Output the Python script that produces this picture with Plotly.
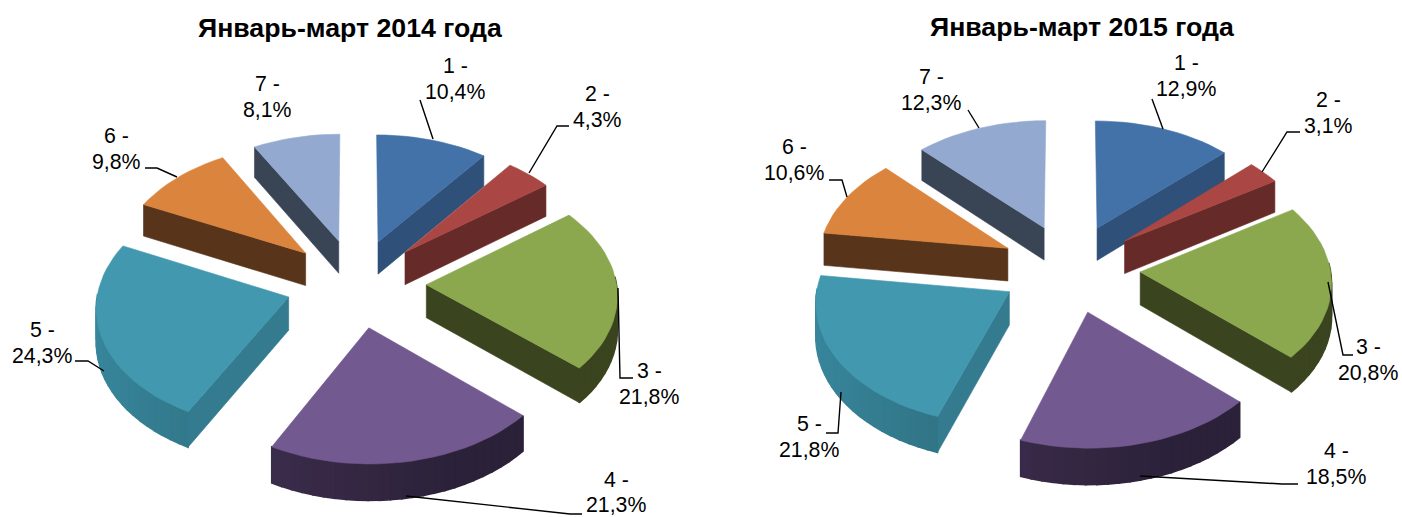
import math
import plotly.graph_objects as go

# ---- data ----
categories = ["1", "2", "3", "4", "5", "6", "7"]
values_2014 = [10.4, 4.3, 21.8, 21.3, 24.3, 9.8, 8.1]
values_2015 = [12.9, 3.1, 20.8, 18.5, 21.8, 10.6, 12.3]
title_2014 = "Январь-март 2014 года"
title_2015 = "Январь-март 2015 года"

# ---- styles ----
top_colors = ["#4372A8", "#AA4643", "#8BA84F", "#725990", "#4198AF", "#DB843D", "#93A9CF"]
wall_colors = ["#2F5078", "#662A28", "#3A441F", "#2D2340", "#347B8F", "#57341A", "#394455"]
rim_right = ["#2F5078", "#662A28", "#3A441F", "#2B2139", "#28616F", "#57341A", "#394455"]
rim_left = ["#2F5078", "#662A28", "#3A441F", "#443356", "#38869C", "#57341A", "#394455"]
FONT = "Liberation Sans, Arial, sans-serif"
LABEL_SIZE = 21.3
TITLE_SIZE = 26.7
LINE_STEP = 12.8

# ---- layout of each pie ----
PIE_2014 = dict(cx=356, cy=283, rx=190, ry=120, e=0.37, k=0.07, depth=33)
PIE_2015 = dict(cx=1070, cy=268, rx=190, ry=120, e=0.37, k=0.07, depth=33)

LABELS_2014 = [(455, 79), (597, 107), (649, 384), (616, 492.5), (42, 343), (116, 149), (267, 97)]
LABELS_2015 = [(1186, 76), (1328, 113), (1368, 360), (1336, 464), (809, 437), (794, 160), (931, 90)]
LEADERS = [
    [(420, 100), (433, 139)],
    [(569, 126), (557, 126), (529, 173)],
    [(618, 288), (620, 378), (633, 378)],
    [(406, 496), (570, 514), (582, 514)],
    [(75, 361), (88, 361), (104, 371)],
    [(145, 168), (157, 168), (177, 177)],
    [(1152, 99), (1163, 129)],
    [(1300, 132), (1287, 132), (1262, 172)],
    [(1328, 282), (1343, 355), (1353, 355)],
    [(1140, 476), (1282, 484), (1298, 484)],
    [(841, 392), (838, 433), (826, 433)],
    [(829, 180), (842, 180), (847, 197)],
    [(968, 110), (979, 128)],
]


def mix(c1, c2, t):
    a = [int(c1[i:i + 2], 16) for i in (1, 3, 5)]
    b = [int(c2[i:i + 2], 16) for i in (1, 3, 5)]
    return "#%02x%02x%02x" % tuple(round(p + (q - p) * t) for p, q in zip(a, b))


def polygon(points, color, width=0.6):
    xs = [p[0] for p in points] + [points[0][0]]
    ys = [p[1] for p in points] + [points[0][1]]
    return go.Scatter(x=xs, y=ys, mode="lines", fill="toself", fillcolor=color,
                      line=dict(color=color, width=width), hoverinfo="skip", showlegend=False)


def add_pie(fig, values, p):
    total = sum(values)
    spans = []
    acc = 0.0
    for v in values:
        spans.append((acc / total * 2 * math.pi, (acc + v) / total * 2 * math.pi))
        acc += v

    def project(u, v, lowered):
        s = 1 / (1 - p["k"] * v)
        return (p["cx"] + p["rx"] * s * u,
                p["cy"] + p["ry"] * s * v + (p["depth"] * s if lowered else 0))

    order = sorted(range(len(values)), key=lambda i: -math.cos(sum(spans[i]) / 2))
    for i in order:
        a, b = spans[i]
        mid = (a + b) / 2
        ou, ov = p["e"] * math.sin(mid), -p["e"] * math.cos(mid)
        apex = (ou, ov)
        edge = lambda t: (ou + math.sin(t), ov - math.cos(t))
        n = max(4, int((b - a) / math.radians(3)))
        angles = [a + (b - a) * j / n for j in range(n + 1)]

        def wall(t):
            e1 = edge(t)
            return [project(*apex, False), project(*e1, False),
                    project(*e1, True), project(*apex, True)]

        if math.sin(a) < 0:
            fig.add_trace(polygon(wall(a), wall_colors[i]))
        if math.sin(b) > 0:
            fig.add_trace(polygon(wall(b), wall_colors[i]))
        for t0, t1 in zip(angles[:-1], angles[1:]):
            tm = (t0 + t1) / 2
            if math.cos(tm) < 0.05:
                # side shading goes from right (dark) to left (lighter)
                shade = (1 - math.sin(tm)) / 2
                shade = max(0.0, min(1.0, (shade - 0.3) / 0.7))
                col = mix(rim_right[i], rim_left[i], shade)
                e0, e1 = edge(t0), edge(t1)
                fig.add_trace(polygon([project(*e0, False), project(*e1, False),
                                       project(*e1, True), project(*e0, True)], col, 1.6))
        top = [project(*apex, False)] + [project(*edge(t), False) for t in angles]
        fig.add_trace(polygon(top, top_colors[i]))


fig = go.Figure()
add_pie(fig, values_2014, PIE_2014)
add_pie(fig, values_2015, PIE_2015)

for seg in LEADERS:
    fig.add_trace(go.Scatter(x=[q[0] for q in seg], y=[q[1] for q in seg], mode="lines",
                             line=dict(color="#000000", width=1.4), hoverinfo="skip",
                             showlegend=False))

annotations = []
for vals, pos in ((values_2014, LABELS_2014), (values_2015, LABELS_2015)):
    for c, v, (x, y) in zip(categories, vals, pos):
        for line, dy in ((f"{c} -", -LINE_STEP), (f"{v:.1f}%".replace(".", ","), LINE_STEP)):
            annotations.append(dict(x=x, y=y + dy, xref="x", yref="y", showarrow=False,
                                    text=line,
                                    font=dict(family=FONT, size=LABEL_SIZE, color="#000000"),
                                    align="center", xanchor="center", yanchor="middle"))
for text, x, y in ((title_2014, 350, 28), (title_2015, 1082, 27)):
    annotations.append(dict(x=x, y=y, xref="x", yref="y", showarrow=False,
                            text=f"<b>{text}</b>",
                            font=dict(family=FONT, size=TITLE_SIZE, color="#000000"),
                            xanchor="center", yanchor="middle"))

fig.update_layout(
    width=1402, height=517, margin=dict(l=0, r=0, t=0, b=0),
    paper_bgcolor="#FFFFFF", plot_bgcolor="#FFFFFF", showlegend=False,
    xaxis=dict(range=[0, 1402], visible=False, fixedrange=True),
    yaxis=dict(range=[517, 0], visible=False, fixedrange=True),
    annotations=annotations,
)
fig.write_html("out.html", config=dict(displayModeBar=False, responsive=False),
               post_script="document.body.style.margin='0';document.documentElement.style.overflow='hidden';")
